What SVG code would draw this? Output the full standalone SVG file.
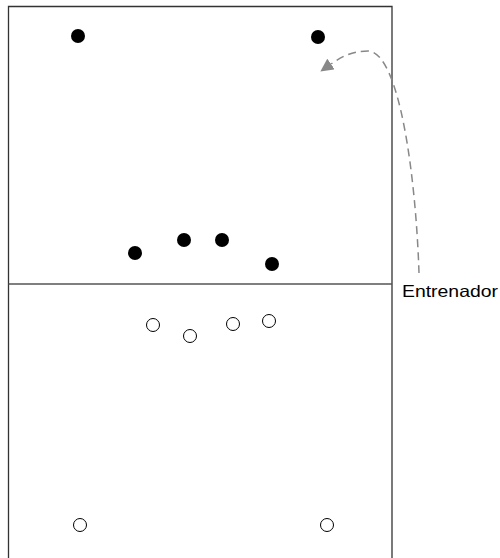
<svg xmlns="http://www.w3.org/2000/svg" width="500" height="558" viewBox="0 0 500 558">
<defs>
<style>
.court{fill:none;stroke:#333;stroke-width:1.3}
.net{stroke:#555;stroke-width:1.3}
.full{fill:#000}
.open{fill:#fff;stroke:#000;stroke-width:1}
.move{fill:none;stroke:#888;stroke-width:1.5;stroke-dasharray:8 5}
.lbl{font-family:"Liberation Sans",Arial,sans-serif;font-size:16.5px;fill:#000}
</style>
<marker id="ah" markerWidth="13" markerHeight="13" refX="0" refY="6.5" orient="auto" markerUnits="userSpaceOnUse" viewBox="0 0 13 13">
<path d="M0,0 L13,6.5 L0,13 z" fill="#888"/>
</marker>
</defs>
<g id="court">
<path class="court" d="M8.5,560 V6.5 H392 V560"/>
<line class="net" x1="8.5" y1="284" x2="392" y2="284"/>
</g>
<g id="team-a">
<circle id="a1" class="full" cx="78" cy="36" r="7"/>
<circle id="a2" class="full" cx="318" cy="37" r="7"/>
<circle id="a3" class="full" cx="135" cy="253" r="7"/>
<circle id="a4" class="full" cx="184" cy="240" r="7"/>
<circle id="a5" class="full" cx="222" cy="240" r="7"/>
<circle id="a6" class="full" cx="272" cy="264" r="7"/>
</g>
<g id="team-b">
<circle id="b1" class="open" cx="153" cy="325" r="6.5"/>
<circle id="b2" class="open" cx="190" cy="336" r="6.5"/>
<circle id="b3" class="open" cx="233" cy="324" r="6.5"/>
<circle id="b4" class="open" cx="269" cy="321" r="6.5"/>
<circle id="b5" class="open" cx="80" cy="525" r="6.5"/>
<circle id="b6" class="open" cx="327" cy="525" r="6.5"/>
</g>
<g id="connectors">
<path class="move" d="M419,273 C416,180 400,52 368,51 C352,51 341,57 331,64" marker-end="url(#ah)"/>
</g>
<g id="coach">
<text class="lbl" x="402" y="297" textLength="96" lengthAdjust="spacingAndGlyphs">Entrenador</text>
</g>
</svg>
